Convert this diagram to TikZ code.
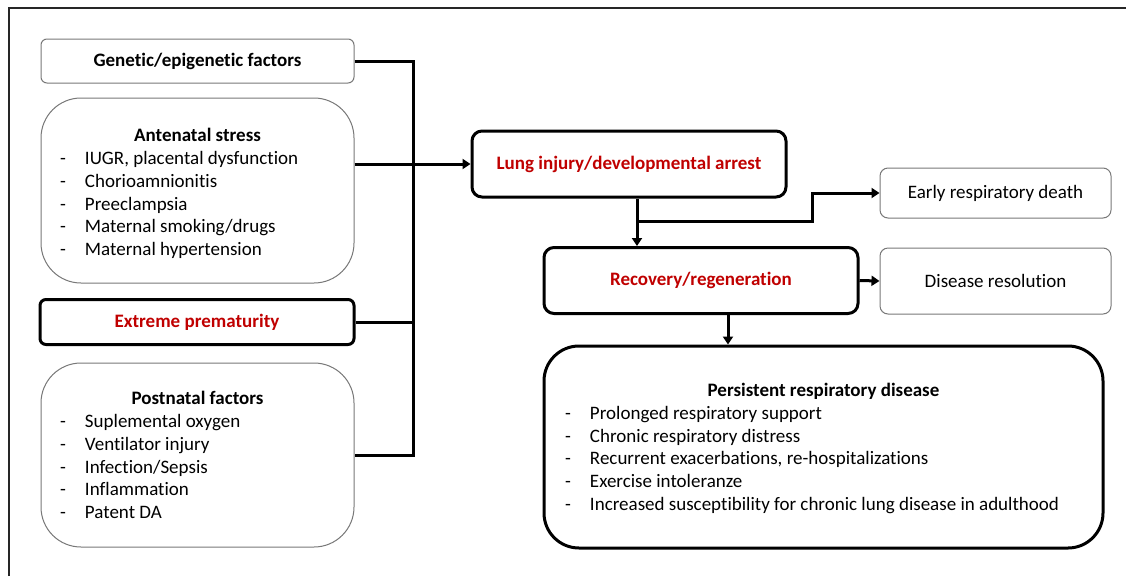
\documentclass[tikz,border=0pt]{standalone}
\usepackage{fontspec}
\setmainfont{Carlito}[Ligatures=NoCommon]
\usetikzlibrary{arrows.meta,calc}
\definecolor{dred}{RGB}{192,0,0}
\definecolor{bgray}{RGB}{120,120,120}
\newcommand{\itm}[1]{\makebox[25pt][l]{-}#1\par}
\begin{document}
\begin{tikzpicture}[x=1pt,y=-1pt,
  every node/.style={font=\fontsize{19}{22.8}\selectfont},
  thinbox/.style={draw=bgray,line width=1pt,rounded corners=6pt,inner sep=0pt,fill=white},
  thickbox/.style={draw=black,line width=3pt,rounded corners=8pt,inner sep=0pt,fill=white},
  conn/.style={draw=black,line width=3pt},
  arr/.style={conn,-{Triangle[length=8pt,width=10pt]}}]
\useasboundingbox (0,0) rectangle (1126,576);
\fill[white] (0,0) rectangle (1126,576);
\draw[line width=2pt,black!85] (9,576) -- (9,8) -- (1126,8);
% left column
\node[thinbox,minimum width=313,minimum height=44] (gen) at (197.5,61) {\textbf{Genetic/epigenetic factors}};
\node[thinbox,minimum width=313,minimum height=185,rounded corners=40pt] (ante) at (197.5,190.5)
 {\begin{minipage}{275pt}\vspace*{6pt}\centering\textbf{Antenatal stress}\par\raggedright
  \itm{IUGR, placental dysfunction}\itm{Chorioamnionitis}\itm{Preeclampsia}\itm{Maternal smoking/drugs}\itm{Maternal hypertension}\end{minipage}};
\node[thickbox,minimum width=314,minimum height=45,rounded corners=6pt] (ext) at (197,322) {\textcolor{dred}{\textbf{Extreme prematurity}}};
\node[thinbox,minimum width=313,minimum height=184,rounded corners=40pt] (post) at (197.5,455)
 {\begin{minipage}{275pt}\centering\textbf{Postnatal factors}\par\raggedright
  \itm{Suplemental oxygen}\itm{Ventilator injury}\itm{Infection/Sepsis}\itm{Inflammation}\itm{Patent DA}\end{minipage}};
% right part
\node[thickbox,minimum width=314,minimum height=66,rounded corners=10pt] (lung) at (629,164) {\textcolor{dred}{\textbf{Lung injury/developmental arrest}}};
\node[thinbox,minimum width=231,minimum height=50,rounded corners=8pt] (early) at (995.5,193) {Early respiratory death};
\node[thickbox,minimum width=314,minimum height=66,rounded corners=10pt] (recov) at (701,280.5) {\textcolor{dred}{\textbf{Recovery/regeneration}}};
\node[thinbox,minimum width=231,minimum height=66,rounded corners=8pt] (disres) at (995.5,281) {Disease resolution};
\node[thickbox,minimum width=559,minimum height=202,rounded corners=35pt] (pers) at (823.5,447)
 {\begin{minipage}{517pt}\vspace*{3pt}\centering\textbf{Persistent respiratory disease}\par\raggedright
  \itm{Prolonged respiratory support}\itm{Chronic respiratory distress}\itm{Recurrent exacerbations, re-hospitalizations}\itm{Exercise intoleranze}\itm{Increased susceptibility for chronic lung disease in adulthood}\end{minipage}};
% connector helpers
\coordinate (bus) at (413,0);
\coordinate (j1) at (637,221);
\coordinate (j2) at (812,0);
\coordinate (k) at (728,0);
% connectors
\draw[conn] (gen.east) -| (bus |- post.east) -- (post.east);
\draw[conn] (ext.east) -- (bus |- ext.east);
\draw[arr] (ante.east |- lung.west) -- (lung.west);
\draw[arr] (lung.south -| j1) -- (recov.north -| j1);
\draw[arr] (j1) -- (j2 |- j1) -- (j2 |- early.west) -- (early.west);
\draw[arr] (recov.east) -- (disres.west);
\draw[arr] (recov.south -| k) -- (pers.north -| k);
\end{tikzpicture}
\end{document}
